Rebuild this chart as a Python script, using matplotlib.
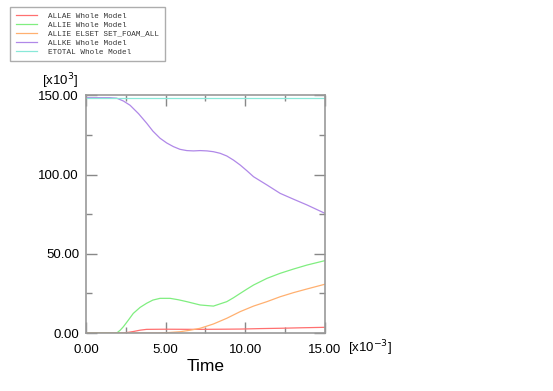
import matplotlib
matplotlib.use("Agg")
import matplotlib.pyplot as plt
from matplotlib.ticker import MultipleLocator, FormatStrFormatter

# time in 1e-3 s, energies in 1e3
t_allae = [0.0, 2.3, 2.7, 3.0, 3.4, 3.8, 5.0, 7.0, 8.5, 9.7, 11.0, 12.2, 13.5, 15.0]
allae = [0.0, 0.0, 0.5, 1.0, 1.8, 2.3, 2.4, 2.3, 2.4, 2.5, 2.8, 3.0, 3.3, 3.6]

t_allie = [0.0, 1.93, 2.15, 2.35, 2.65, 2.97, 3.4, 3.81, 4.2, 4.65, 5.28, 5.8, 6.33, 7.17,
           8.0, 8.84, 9.25, 9.68, 10.1, 10.52, 11.36, 12.19, 13.03, 13.87, 15.0]
allie = [0.0, 0.0, 1.8, 4.0, 8.0, 12.4, 16.2, 18.8, 20.8, 21.9, 21.9, 21.0, 19.8, 17.7,
         17.0, 19.8, 22.2, 25.0, 27.7, 30.3, 34.5, 37.7, 40.4, 42.9, 45.7]

t_foam = [0.0, 4.5, 5.2, 5.9, 6.5, 7.17, 8.0, 8.84, 9.68, 10.52, 11.36, 12.19, 13.03, 13.87, 15.0]
foam = [0.0, 0.0, 0.3, 0.8, 1.7, 3.0, 5.7, 9.3, 13.5, 17.0, 19.8, 22.9, 25.5, 27.8, 30.8]

t_allke = [0.0, 1.5, 1.93, 2.35, 2.77, 3.3, 3.81, 4.2, 4.65, 5.07, 5.49, 5.9, 6.33, 6.75, 7.17,
           7.6, 8.0, 8.42, 8.84, 9.26, 9.68, 10.1, 10.52, 11.36, 12.19, 13.03, 13.87, 15.0]
allke = [148.6, 148.6, 148.3, 146.5, 143.8, 138.5, 132.5, 127.5, 123.0, 120.0, 117.7, 116.0, 115.2,
         115.0, 115.2, 115.0, 114.5, 113.5, 111.8, 109.2, 106.1, 102.5, 98.7, 93.5, 88.2, 84.5, 80.9, 75.6]

t_etotal = [0.0, 15.0]
etotal = [148.7, 148.7]

labels = ["ALLAE Whole Model", "ALLIE Whole Model", "ALLIE ELSET SET_FOAM_ALL",
          "ALLKE Whole Model", "ETOTAL Whole Model"]
colors = ["#ff7070", "#80ee80", "#ffb070", "#b088e8", "#88e8d8"]

fig = plt.figure(figsize=(5.53, 3.91), dpi=100)
ax = fig.add_axes([0.1555, 0.1483, 0.432, 0.6075])

series = [(t_allae, allae), (t_allie, allie), (t_foam, foam), (t_allke, allke), (t_etotal, etotal)]
handles = []
for (t, v), c, lab in zip(series, colors, labels):
    h, = ax.plot(t, v, color=c, lw=0.9, label=lab)
    handles.append(h)

ax.set_xlim(0, 15)
ax.set_ylim(0, 150)
ax.xaxis.set_major_locator(MultipleLocator(5))
ax.xaxis.set_minor_locator(MultipleLocator(2.5))
ax.yaxis.set_major_locator(MultipleLocator(50))
ax.yaxis.set_minor_locator(MultipleLocator(25))
ax.xaxis.set_major_formatter(FormatStrFormatter("%.2f"))
ax.yaxis.set_major_formatter(FormatStrFormatter("%.2f"))
ax.tick_params(which="both", direction="in", top=True, right=True, color="#888888",
               labelsize=9.5, width=1)
ax.tick_params(which="major", length=8)
ax.tick_params(axis="x", which="major", pad=8)
ax.tick_params(axis="y", which="major", pad=5)
ax.tick_params(which="minor", length=4)
for lbl in ax.get_xticklabels() + ax.get_yticklabels():
    lbl.set_fontfamily("Liberation Sans")
for s in ax.spines.values():
    s.set_color("#999999")
    s.set_linewidth(1.2)

ax.set_xlabel("Time", fontsize=12.5, family="Liberation Sans", labelpad=2)
fig.text(42 / 553, 1 - 81 / 391, "[x10$^{3}$]", fontsize=9.5, family="Liberation Sans",
         ha="left", va="center")
fig.text(348 / 553, 1 - 348 / 391, "[x10$^{-3}$]", fontsize=9.5, family="Liberation Sans",
         ha="left", va="center")

leg = fig.legend(handles=handles, labels=labels, loc="upper left",
                 bbox_to_anchor=(10.5 / 553, 1 - 7 / 391), prop={"family": "Liberation Mono", "size": 5.5},
                 frameon=True, fancybox=False, handlelength=2.75, handletextpad=1.45,
                 labelspacing=0.2, borderpad=0.75, borderaxespad=0)
for txt in leg.get_texts():
    txt.set_color("#333333")
leg.get_frame().set_edgecolor("#999999")
leg.get_frame().set_linewidth(1.0)

fig.savefig("out.png", dpi=100)
